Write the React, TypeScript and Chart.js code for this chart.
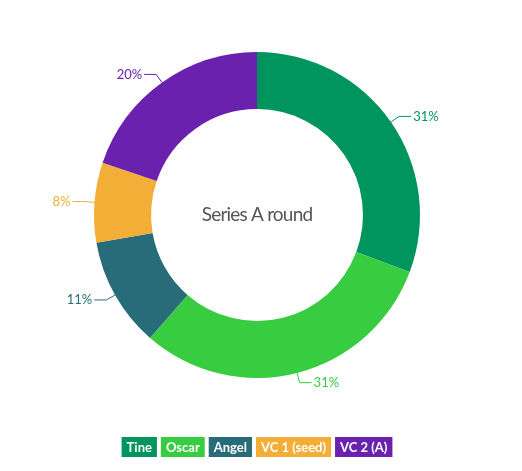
import React, { useEffect, useRef } from "react";
import { Chart, registerables } from "chart.js";

Chart.register(...registerables);

const categories = ["Tine", "Oscar", "Angel", "VC 1 (seed)", "VC 2 (A)"];
const shares = [31, 31, 11, 8, 20];
const colors = ["#00955F", "#38CC40", "#286C7A", "#F2AE37", "#6A21AE"];
const centerTitle = "Series A round";

const FONT = "Lato, 'Liberation Sans', sans-serif";

const outLabelsPlugin = {
  id: "outLabels",
  afterDatasetsDraw(chart: any) {
    const ctx = chart.ctx;
    const meta = chart.getDatasetMeta(0);
    const data = chart.data.datasets[0].data as number[];
    const total = data.reduce((a, b) => a + b, 0);
    ctx.save();
    ctx.font = `13px ${FONT}`;
    ctx.textBaseline = "middle";
    meta.data.forEach((arc: any, i: number) => {
      const { x, y, startAngle, endAngle, outerRadius } = arc.getProps(
        ["x", "y", "startAngle", "endAngle", "outerRadius"],
        true
      );
      const mid = (startAngle + endAngle) / 2;
      const c = Math.cos(mid);
      const s = Math.sin(mid);
      const x0 = x + c * outerRadius;
      const y0 = y + s * outerRadius;
      const x1 = x + c * (outerRadius + 10);
      const y1 = y + s * (outerRadius + 10);
      const right = c >= 0;
      const x2 = x1 + (right ? 12 : -12);
      ctx.strokeStyle = colors[i];
      ctx.lineWidth = 1;
      ctx.beginPath();
      ctx.moveTo(x0, y0);
      ctx.lineTo(x1, y1);
      ctx.lineTo(x2, y1);
      ctx.stroke();
      ctx.fillStyle = colors[i];
      ctx.textAlign = right ? "left" : "right";
      ctx.fillText(Math.round((data[i] / total) * 100) + "%", x2 + (right ? 2 : -2), y1);
    });
    ctx.restore();
  },
};

const centerTextPlugin = {
  id: "centerText",
  afterDatasetsDraw(chart: any) {
    const ctx = chart.ctx;
    const arc = chart.getDatasetMeta(0).data[0];
    if (!arc) return;
    ctx.save();
    ctx.font = `19px ${FONT}`;
    try {
      (ctx as any).letterSpacing = "-0.8px";
    } catch (e) {}
    ctx.fillStyle = "#555555";
    ctx.textAlign = "center";
    ctx.textBaseline = "middle";
    ctx.fillText(centerTitle, arc.x, arc.y);
    ctx.restore();
  },
};

const boxLegendPlugin = {
  id: "boxLegend",
  afterDraw(chart: any) {
    const ctx = chart.ctx;
    ctx.save();
    ctx.font = `bold 13px ${FONT}`;
    const pad = 5;
    const gap = 4;
    const h = 20;
    const widths = categories.map((c) => ctx.measureText(c).width + pad * 2);
    const total = widths.reduce((a, b) => a + b, 0) + gap * (categories.length - 1);
    const arc = chart.getDatasetMeta(0).data[0];
    const cx = arc ? arc.x : chart.width / 2;
    let x = cx - total / 2;
    const top = 429;
    ctx.textBaseline = "middle";
    ctx.textAlign = "center";
    categories.forEach((c, i) => {
      ctx.fillStyle = colors[i];
      ctx.fillRect(x, top, widths[i], h);
      ctx.fillStyle = "#ffffff";
      ctx.fillText(c, x + widths[i] / 2, top + h / 2 + 0.5);
      x += widths[i] + gap;
    });
    ctx.restore();
  },
};

export default function App() {
  const ref = useRef<HTMLCanvasElement | null>(null);
  useEffect(() => {
    if (!ref.current) return;
    const chart = new Chart(ref.current, {
      type: "doughnut",
      data: {
        labels: categories,
        datasets: [
          {
            data: shares,
            backgroundColor: colors,
            borderWidth: 0,
          },
        ],
      },
      options: {
        responsive: true,
        maintainAspectRatio: false,
        animation: false,
        cutout: "65%",
        layout: { padding: { top: 44, left: 86, right: 94, bottom: 85 } },
        plugins: {
          legend: { display: false },
          tooltip: { enabled: false },
        },
      },
      plugins: [outLabelsPlugin, centerTextPlugin, boxLegendPlugin],
    });
    return () => chart.destroy();
  }, []);
  return (
    <div style={{ width: 506, height: 455, position: "relative" }}>
      <canvas ref={ref} />
    </div>
  );
}
